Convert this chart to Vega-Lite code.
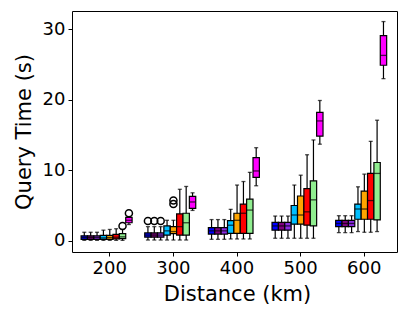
{
  "$schema": "https://vega.github.io/schema/vega-lite/v6.json",
  "autosize": "none",
  "width": 325,
  "height": 241,
  "padding": {"left": 72, "top": 11, "right": 10, "bottom": 66},
  "background": "white",
  "config": {
    "view": {"stroke": "black", "strokeWidth": 1},
    "font": "DejaVu Sans",
    "axis": {"labelFont": "DejaVu Sans", "titleFont": "DejaVu Sans", "labelColor": "black", "titleColor": "black", "tickColor": "black", "domain": false, "grid": false, "labelFontSize": 18, "titleFontSize": 21, "titleFontWeight": "normal", "tickSize": 4, "tickWidth": 1, "labelPadding": 3}
  },
  "datasets": {
    "boxes": [
      {"dist": 200, "series": "A", "lo": 0.05, "q1": 0.2, "med": 0.45, "q3": 0.7, "hi": 1.2},
      {"dist": 200, "series": "B", "lo": 0.05, "q1": 0.2, "med": 0.45, "q3": 0.7, "hi": 1.2},
      {"dist": 200, "series": "C", "lo": 0.05, "q1": 0.2, "med": 0.45, "q3": 0.7, "hi": 1.2},
      {"dist": 200, "series": "D", "lo": 0.05, "q1": 0.2, "med": 0.4, "q3": 0.75, "hi": 1.5},
      {"dist": 200, "series": "E", "lo": 0.05, "q1": 0.2, "med": 0.45, "q3": 0.75, "hi": 1.6},
      {"dist": 200, "series": "F", "lo": 0.05, "q1": 0.25, "med": 0.5, "q3": 0.9, "hi": 1.7},
      {"dist": 200, "series": "G", "lo": 0.05, "q1": 0.3, "med": 0.55, "q3": 1.0, "hi": 1.6},
      {"dist": 200, "series": "H", "lo": 2.3, "q1": 2.55, "med": 2.9, "q3": 3.3, "hi": 3.4},
      {"dist": 300, "series": "A", "lo": 0.1, "q1": 0.5, "med": 0.8, "q3": 1.1, "hi": 2.0},
      {"dist": 300, "series": "B", "lo": 0.1, "q1": 0.5, "med": 0.8, "q3": 1.1, "hi": 2.0},
      {"dist": 300, "series": "C", "lo": 0.1, "q1": 0.5, "med": 0.8, "q3": 1.1, "hi": 2.0},
      {"dist": 300, "series": "D", "lo": 0.1, "q1": 0.8, "med": 1.4, "q3": 2.1, "hi": 2.9},
      {"dist": 300, "series": "E", "lo": 0.1, "q1": 1.0, "med": 1.3, "q3": 2.0, "hi": 2.9},
      {"dist": 300, "series": "F", "lo": 0.1, "q1": 0.8, "med": 2.0, "q3": 3.8, "hi": 7.3},
      {"dist": 300, "series": "G", "lo": 0.1, "q1": 0.8, "med": 2.55, "q3": 3.9, "hi": 7.7},
      {"dist": 300, "series": "H", "lo": 4.3, "q1": 4.6, "med": 5.5, "q3": 6.3, "hi": 6.8},
      {"dist": 400, "series": "A", "lo": 0.2, "q1": 0.95, "med": 1.4, "q3": 1.85, "hi": 3.0},
      {"dist": 400, "series": "B", "lo": 0.2, "q1": 0.95, "med": 1.4, "q3": 1.85, "hi": 3.0},
      {"dist": 400, "series": "C", "lo": 0.2, "q1": 0.95, "med": 1.4, "q3": 1.85, "hi": 3.0},
      {"dist": 400, "series": "D", "lo": 0.25, "q1": 1.05, "med": 2.2, "q3": 2.85, "hi": 4.45},
      {"dist": 400, "series": "E", "lo": 0.25, "q1": 1.05, "med": 2.9, "q3": 3.9, "hi": 7.9},
      {"dist": 400, "series": "F", "lo": 0.25, "q1": 1.05, "med": 3.9, "q3": 5.2, "hi": 8.4},
      {"dist": 400, "series": "G", "lo": 0.25, "q1": 1.05, "med": 4.35, "q3": 5.9, "hi": 9.7},
      {"dist": 400, "series": "H", "lo": 7.8, "q1": 9.0, "med": 9.9, "q3": 11.8, "hi": 13.2},
      {"dist": 500, "series": "A", "lo": 0.35, "q1": 1.5, "med": 2.1, "q3": 2.6, "hi": 3.5},
      {"dist": 500, "series": "B", "lo": 0.35, "q1": 1.5, "med": 2.1, "q3": 2.6, "hi": 3.5},
      {"dist": 500, "series": "C", "lo": 0.35, "q1": 1.5, "med": 2.1, "q3": 2.6, "hi": 3.5},
      {"dist": 500, "series": "D", "lo": 0.35, "q1": 2.35, "med": 3.65, "q3": 5.0, "hi": 7.9},
      {"dist": 500, "series": "E", "lo": 0.35, "q1": 2.35, "med": 3.65, "q3": 6.35, "hi": 9.3},
      {"dist": 500, "series": "F", "lo": 0.35, "q1": 2.2, "med": 4.1, "q3": 7.4, "hi": 12.2},
      {"dist": 500, "series": "G", "lo": 0.35, "q1": 2.1, "med": 5.8, "q3": 8.5, "hi": 14.3},
      {"dist": 500, "series": "H", "lo": 13.7, "q1": 14.85, "med": 17.0, "q3": 18.2, "hi": 19.9},
      {"dist": 600, "series": "A", "lo": 1.15, "q1": 2.0, "med": 2.45, "q3": 2.9, "hi": 3.55},
      {"dist": 600, "series": "B", "lo": 1.15, "q1": 2.0, "med": 2.45, "q3": 2.9, "hi": 3.55},
      {"dist": 600, "series": "C", "lo": 1.15, "q1": 2.0, "med": 2.45, "q3": 2.9, "hi": 3.55},
      {"dist": 600, "series": "D", "lo": 1.3, "q1": 3.05, "med": 4.5, "q3": 5.2, "hi": 7.65},
      {"dist": 600, "series": "E", "lo": 1.2, "q1": 3.05, "med": 4.5, "q3": 7.05, "hi": 9.45},
      {"dist": 600, "series": "F", "lo": 1.2, "q1": 3.05, "med": 5.7, "q3": 9.55, "hi": 14.1},
      {"dist": 600, "series": "G", "lo": 1.3, "q1": 2.95, "med": 9.55, "q3": 11.1, "hi": 17.1},
      {"dist": 600, "series": "H", "lo": 23.0, "q1": 24.9, "med": 26.3, "q3": 29.1, "hi": 31.1}
    ],
    "outliers": [
      {"dist": 200, "series": "G", "value": 2.1},
      {"dist": 200, "series": "H", "value": 3.9},
      {"dist": 300, "series": "A", "value": 2.8},
      {"dist": 300, "series": "B", "value": 2.8},
      {"dist": 300, "series": "C", "value": 2.8},
      {"dist": 300, "series": "E", "value": 5.2},
      {"dist": 300, "series": "E", "value": 5.7}
    ]
  },
  "encoding": {
    "x": {
      "field": "dist", "type": "ordinal", "sort": [200, 300, 400, 500, 600],
      "scale": {"type": "band", "domain": [200, 300, 400, 500, 600], "range": [5.9, 324.1], "paddingInner": 0, "paddingOuter": 0},
      "axis": {"title": "Distance (km)", "labelAngle": 0, "titlePadding": 6}
    },
    "xOffset": {
      "field": "series", "type": "nominal",
      "scale": {"domain": ["A", "B", "C", "D", "E", "F", "G", "H"], "range": [3.2, 54.2], "paddingInner": 0, "paddingOuter": 0}
    }
  },
  "layer": [
    {
      "data": {"name": "boxes"},
      "mark": {"type": "rule", "color": "black", "strokeWidth": 1.2},
      "encoding": {
        "y": {"field": "lo", "type": "quantitative", "scale": {"domain": [-1.6, 32.6], "nice": false, "zero": false},
          "axis": {"title": "Query Time (s)", "values": [0, 10, 20, 30], "titlePadding": 8}},
        "y2": {"field": "hi"}
      }
    },
    {
      "data": {"name": "boxes"},
      "mark": {"type": "bar", "stroke": "black", "strokeWidth": 1.2, "opacity": 1},
      "encoding": {
        "y": {"field": "q1", "type": "quantitative"},
        "y2": {"field": "q3"},
        "color": {
          "field": "series", "type": "nominal", "legend": null,
          "scale": {"domain": ["A", "B", "C", "D", "E", "F", "G", "H"], "range": ["#0000ff", "#800080", "#8a2be2", "#00bfff", "#ffa500", "#ff0000", "#90ee90", "#ff00ff"]}
        }
      }
    },
    {
      "data": {"name": "boxes"},
      "mark": {"type": "tick", "color": "black", "size": 6.4, "thickness": 1.3, "orient": "horizontal"},
      "encoding": {"y": {"field": "med", "type": "quantitative"}}
    },
    {
      "data": {"name": "boxes"},
      "mark": {"type": "tick", "color": "black", "size": 4, "thickness": 1.3, "orient": "horizontal"},
      "encoding": {"y": {"field": "lo", "type": "quantitative"}}
    },
    {
      "data": {"name": "boxes"},
      "mark": {"type": "tick", "color": "black", "size": 4, "thickness": 1.3, "orient": "horizontal"},
      "encoding": {"y": {"field": "hi", "type": "quantitative"}}
    },
    {
      "data": {"name": "outliers"},
      "mark": {"type": "point", "shape": "circle", "filled": false, "stroke": "black", "strokeWidth": 1.5, "size": 50, "opacity": 1},
      "encoding": {"y": {"field": "value", "type": "quantitative"}}
    }
  ]
}
